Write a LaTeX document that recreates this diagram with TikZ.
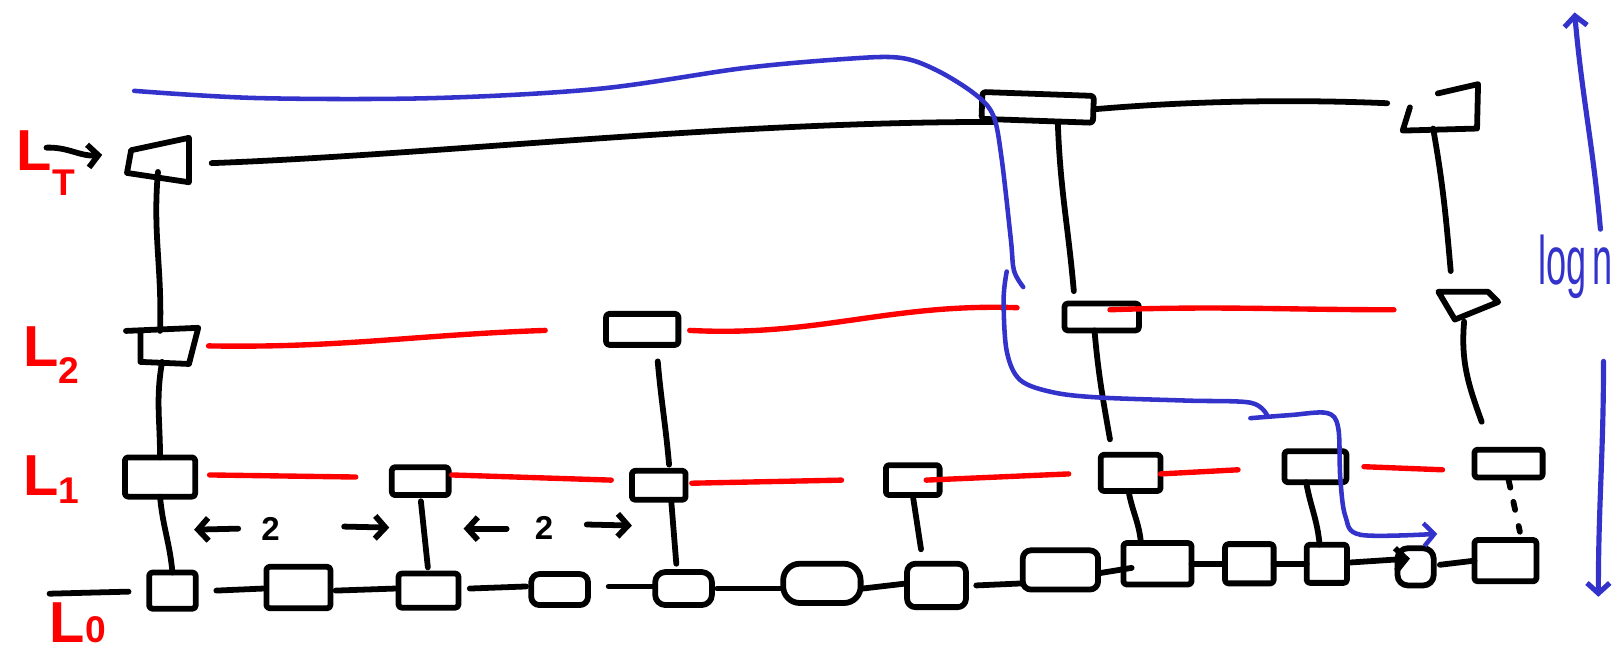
\documentclass[tikz,border=0pt]{standalone}
\usepackage{fontspec}
\setmainfont{Liberation Sans}
\usetikzlibrary{arrows.meta,calc}
\definecolor{hred}{RGB}{255,0,0}
\definecolor{hblue}{RGB}{51,51,204}
\begin{document}
\begin{tikzpicture}[x=0.5pt,y=-0.5pt, line cap=round, line join=round,
  box/.style={draw=black, line width=2.8pt, rounded corners=1.5pt, inner sep=0pt, outer sep=0pt},
  cell/.style 2 args={box, minimum width={#1*0.5pt}, minimum height={#2*0.5pt}},
  frame/.style 2 args={inner sep=0pt, outer sep=0pt, minimum width={#1*0.5pt}, minimum height={#2*0.5pt}},
  link/.style={draw=black, line width=2.8pt},
  rlink/.style={draw=hred, line width=2.6pt},
  blink/.style={draw=hblue, line width=2.2pt},
  tip/.style={-{Straight Barb[length=5pt,width=11pt]}},
  lab/.style={text=hred, font=\fontsize{28pt}{28pt}\selectfont\bfseries, inner sep=0pt},
  num/.style={text=black, font=\fontsize{16pt}{16pt}\selectfont\bfseries, inner sep=0pt},
]
\useasboundingbox (0,0) rectangle (1568,635);

% ---------- level labels
\node[lab, anchor=base west] (LT) at (16,165) {L\raisebox{-12pt}{\fontsize{18pt}{18pt}\selectfont T}};
\node[lab, anchor=base west] (L2) at (22,355) {L\raisebox{-8pt}{\fontsize{18pt}{18pt}\selectfont 2}};
\node[lab, anchor=base west] (L1) at (22,480) {L\raisebox{-4pt}{\fontsize{18pt}{18pt}\selectfont 1}};
\node[lab, anchor=base west] (L0) at (48,622) {L\fontsize{18pt}{18pt}\selectfont 0};

% ---------- top level
\node[frame={60}{43}] (tA) at (153,155) {};
\draw[link] ($(tA.north west)+(4,12)$) -- (tA.north east) -- (tA.south east) -- ($(tA.south west)+(0,-9)$) -- cycle;
\node[cell={108}{26}, rotate=-2] (tE) at (1005,104) {};
\node[frame={73}{45}] (tG) at (1395,104) {};
\draw[link] ($(tG.north west)+(34,9)$) -- (tG.north east) -- ($(tG.south east)+(-1,-2)$) -- (tG.south west) -- ($(tG.west)+(7,0)$);

% ---------- level 2
\node[frame={70}{35}] (bA) at (157,335) {};
\draw[link] ($(bA.north west)+(0,3)$) -- (bA.north east) -- ($(bA.south east)+(-9,0)$) -- ($(bA.south west)+(14,-2)$) -- ($(bA.north west)+(14,4)$);
\node[cell={70}{30}] (bC) at (622,319) {};
\node[cell={72}{26}] (bE) at (1067,307) {};
\node[frame={58}{27}] (bG) at (1422,296) {};
\draw[link] (bG.north west) -- ($(bG.north east)+(-10,0)$) -- ($(bG.south east)+(0,-17)$) -- ($(bG.south west)+(16,0)$) -- cycle;

% ---------- level 1
\node[cell={68}{38}] (cA) at (155,462) {};
\node[cell={55}{27}] (cB) at (407,466) {};
\node[cell={52}{28}] (cC) at (638,470) {};
\node[cell={52}{29}] (cD) at (884,465) {};
\node[cell={58}{35}] (cE) at (1095,458) {};
\node[cell={60}{30}] (cF) at (1274,452) {};
\node[cell={66}{27}] (cG) at (1461,449) {};

% ---------- level 0
\node[cell={45}{35}] (d1) at (167,572) {};
\node[cell={62}{40}] (d2) at (289,569) {};
\node[cell={58}{33}] (d3) at (415,572) {};
\node[cell={55}{30}, rounded corners=4pt] (d4) at (542,571) {};
\node[cell={55}{32}, rounded corners=5pt] (d5) at (662,570) {};
\node[cell={75}{38}, rounded corners=8pt] (d6) at (796,565) {};
\node[cell={57}{42}, rounded corners=4pt] (d7) at (907,567) {};
\node[cell={73}{38}, rounded corners=4pt] (d8) at (1027,552) {};
\node[cell={66}{40}] (d9) at (1121,546) {};
\node[cell={47}{38}] (d10) at (1210,546) {};
\node[cell={39}{37}] (d11) at (1285,546) {};
\node[cell={35}{36}, rounded corners=5pt] (d12) at (1371,549) {};
\node[cell={60}{40}] (d13) at (1458,543) {};

% ---------- entry arrow
\coordinate (entry) at (45,143);
\draw[link,tip] (entry) to[out=2,in=185] ($(tA.west)+(-24,-5)$);

% ---------- top level lines
\draw[link] ($(tA.east)+(22,3)$) .. controls (420,150) and (700,118) .. ($(tE.west)+(11,16)$);
\draw[link] (tE.east) .. controls (1150,98) and (1250,96) .. ($(tG.west)+(-15,-4)$);

% ---------- vertical towers
\draw[link] ($(tA.south)+(0,-10)$) to[out=-95,in=88] ($(bA.north)+(-2,3)$);
\draw[link] ($(bA.south)+(0,-2)$) to[out=-100,in=90] (cA.north);
\draw[link] (cA.south) to[out=-85,in=95] (d1.north);
\draw[link, shorten <=3pt, shorten >=3pt] (cB.south) -- (d3.north);
\draw[link] ($(bC.south)+(15,16)$) to[out=-85,in=95] ($(cC.north)+(10,-6)$);
\draw[link] ($(cC.south)+(12,0)$) -- ($(d5.north)+(-7,-8)$);
\draw[link] (cD.south) -- ($(d7.north)+(-15,-14)$);
\draw[link] ($(tE.south)+(20,3)$) to[out=-88,in=95] ($(bE.north)+(-27,-12)$);
\draw[link] ($(bE.south)+(-7,0)$) to[out=-85,in=100] ($(cE.north)+(-20,-15)$);
\draw[link] ($(cE.south)+(-2,0)$) to[out=-80,in=95] ($(d9.north)+(-16,0)$);
\draw[link] ($(tG.south)+(-7,-2)$) to[out=-80,in=95] ($(bG.north)+(-17,-20)$);
\draw[link] ($(bG.south)+(-4,2)$) to[out=-95,in=110] ($(cG.north)+(-26,-27)$);
\draw[link] ($(cF.south)+(-9,0)$) to[out=-80,in=95] ($(d11.north)+(-7,0)$);
\draw[link, dash pattern=on 4pt off 7pt on 4pt off 8pt on 11pt] ($(cG.south)+(0,2)$) -- ($(d13.north)+(14,-8)$);

% ---------- red pointers, level 2
\draw[rlink] ($(bA.east)+(10,0)$) to[out=-1,in=182] ($(bC.west)+(-59,1)$);
\draw[rlink] ($(bC.east)+(11,1)$) to[out=-3,in=178] ($(bE.west)+(-46,-9)$);
\draw[rlink] ($(bE.east)+(-28,-7)$) to[out=2,in=180] ($(bG.west)+(-43,4)$);

% ---------- red pointers, level 1
\draw[rlink] ($(cA.east)+(14,-2)$) -- ($(cB.west)+(-35,-4)$);
\draw[rlink] ($(cB.east)+(3,-6)$) -- ($(cC.west)+(-20,-5)$);
\draw[rlink] ($(cC.east)+(6,-2)$) -- ($(cD.west)+(-43,0)$);
\draw[rlink] ($(cD.east)+(-13,0)$) -- ($(cE.west)+(-31,1)$);
\draw[rlink] ($(cE.east)+(0,1)$) -- ($(cF.west)+(-45,3)$);
\draw[rlink] ($(cF.east)+(17,0)$) -- ($(cG.west)+(-31,6)$);

% ---------- level 0 pointers
\coordinate (l0start) at (48,575);
\draw[link] (l0start) -- ($(d1.west)+(-20,1)$);
\draw[link] ($(d1.east)+(20,0)$) -- ($(d2.west)+(-3,1)$);
\draw[link] ($(d2.east)+(5,3)$) -- ($(d3.west)+(-3,-2)$);
\draw[link] ($(d3.east)+(11,-2)$) -- ($(d4.west)+(-5,-3)$);
\draw[link] ($(d4.east)+(20,-3)$) -- ($(d5.west)+(0,-2)$);
\draw[link] ($(d5.east)+(5,0)$) -- ($(d6.west)+(0,5)$);
\draw[link] ($(d6.east)+(2,5)$) -- ($(d7.west)+(0,-2)$);
\draw[link] ($(d7.east)+(10,0)$) -- ($(d8.west)+(0,13)$);
\draw[link] ($(d8.east)+(2,3)$) -- ($(d9.west)+(8,4)$);
\draw[link] (d9.east) -- (d10.west);
\draw[link] (d10.east) -- (d11.west);
\draw[link,tip] ($(d11.east)+(0,-1)$) -- ($(d12.west)+(12,-8)$);
\draw[link] ($(d12.east)+(6,-2)$) -- (d13.west);

% ---------- distance marks
\node[num] (twoA) at (262,512) {2};
\node[num] (twoB) at (527,511) {2};
\coordinate (aL1) at (188,513);
\coordinate (aR1) at (377,511);
\coordinate (aL2) at (449,512);
\coordinate (aR2) at (612,509);
\draw[link,tip] ($(twoA.west)+(-22,0)$) -- (aL1);
\draw[link,tip] ($(twoA.east)+(62,-2)$) -- (aR1);
\draw[link,tip] ($(twoB.west)+(-27,1)$) -- (aL2);
\draw[link,tip] ($(twoB.east)+(32,-3)$) -- (aR2);

% ---------- search path (blue)
\draw[blink] plot[smooth, tension=0.55] coordinates {(130,88) (250,95) (420,95) (580,86) (720,66) (820,57) (872,56) (907,68) (944,91) (962,112) (970,153) (979,232) (982,262) (991,278)};
\draw[blink] plot[smooth, tension=0.55] coordinates {(975,263) (972,290) (975,340) (988,368) (1020,380) (1065,385) (1150,388) (1211,390) (1227,402)};
\draw[blink,tip] plot[smooth, tension=0.55] coordinates {(1211,405) (1250,402) (1285,400) (1296,414) (1298,462) (1303,500) (1318,518) (1392,517)};

% ---------- log n
\node[text=hblue, font=\fontsize{24pt}{24pt}\selectfont, inner sep=0pt, anchor=base] (logn) at (1526,276) {\resizebox{36pt}{24pt}{log\,n}};
\coordinate (upend) at (1525,12);
\coordinate (downend) at (1548,578);
\draw[blink, line width=2.5pt, tip] ($(logn.base)+(24,-54)$) to[out=95,in=-85] (upend);
\draw[blink, line width=2.5pt, tip] ($(logn.base)+(27,74)$) to[out=-90,in=90] (downend);
\end{tikzpicture}
\end{document}
